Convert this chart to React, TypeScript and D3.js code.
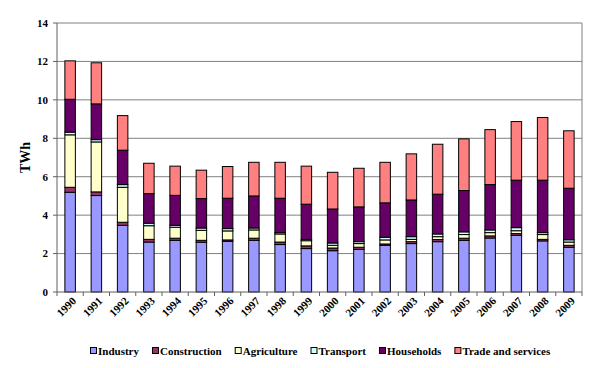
import { useEffect, useRef } from "react";
import * as d3 from "d3";

const years = [
  "1990", "1991", "1992", "1993", "1994", "1995", "1996", "1997", "1998", "1999",
  "2000", "2001", "2002", "2003", "2004", "2005", "2006", "2007", "2008", "2009",
];

const seriesNames = ["Industry", "Construction", "Agriculture", "Transport", "Households", "Trade and services"];
const seriesColors = ["#9999ff", "#993366", "#ffffcc", "#ccffff", "#660066", "#ff8080"];

const industry = [5.19, 5.02, 3.47, 2.6, 2.69, 2.59, 2.64, 2.69, 2.47, 2.26, 2.15, 2.22, 2.43, 2.52, 2.62, 2.69, 2.81, 2.95, 2.66, 2.33];
const construction = [0.26, 0.19, 0.16, 0.14, 0.11, 0.1, 0.07, 0.11, 0.13, 0.14, 0.14, 0.11, 0.07, 0.1, 0.11, 0.11, 0.11, 0.09, 0.08, 0.1];
const agriculture = [2.73, 2.6, 1.82, 0.71, 0.57, 0.52, 0.47, 0.43, 0.42, 0.27, 0.14, 0.19, 0.21, 0.12, 0.15, 0.19, 0.17, 0.15, 0.25, 0.17];
const transport = [0.14, 0.12, 0.14, 0.13, 0.1, 0.12, 0.12, 0.1, 0.07, 0.07, 0.12, 0.1, 0.14, 0.14, 0.14, 0.14, 0.14, 0.16, 0.1, 0.12];
const households = [1.71, 1.86, 1.79, 1.54, 1.56, 1.53, 1.58, 1.67, 1.79, 1.83, 1.77, 1.81, 1.79, 1.91, 2.07, 2.15, 2.36, 2.47, 2.73, 2.68];
const trade = [2.0, 2.14, 1.8, 1.58, 1.52, 1.48, 1.65, 1.75, 1.87, 1.98, 1.91, 2.01, 2.11, 2.4, 2.6, 2.69, 2.86, 3.05, 3.26, 2.99];

const yTicks = [0, 2, 4, 6, 8, 10, 12, 14];

export default function App() {
  const svgRef = useRef<SVGSVGElement>(null);

  const width = 594;
  const height = 368;
  const margin = { top: 23, right: 12, bottom: 76, left: 57 };

  useEffect(() => {
    const svg = d3.select(svgRef.current);
    svg.selectAll("*").remove();

    const font = "Liberation Serif";
    const values = [industry, construction, agriculture, transport, households, trade];
    const rows = years.map((y, i) => {
      const r: any = { year: y };
      seriesNames.forEach((s, k) => (r[s] = values[k][i]));
      return r;
    });
    const stacked = d3.stack().keys(seriesNames)(rows);

    const x = d3
      .scaleBand()
      .domain(years)
      .range([margin.left, width - margin.right])
      .paddingInner(0.6)
      .paddingOuter(0.3);
    const y = d3
      .scaleLinear()
      .domain([0, 14])
      .range([height - margin.bottom, margin.top]);

    const step = x.step();

    // gridlines
    svg.append("g")
      .selectAll("line")
      .data(yTicks.filter((d) => d > 0))
      .join("line")
      .attr("x1", margin.left)
      .attr("x2", width - margin.right)
      .attr("y1", (d) => y(d))
      .attr("y2", (d) => y(d))
      .attr("stroke", "#808080")
      .attr("stroke-width", 1);

    // right border
    svg.append("line")
      .attr("x1", width - margin.right)
      .attr("x2", width - margin.right)
      .attr("y1", margin.top)
      .attr("y2", height - margin.bottom)
      .attr("stroke", "#808080");

    // bars
    svg.append("g")
      .selectAll("g")
      .data(stacked)
      .join("g")
      .attr("fill", (d, i) => seriesColors[i])
      .selectAll("rect")
      .data((d) => d)
      .join("rect")
      .attr("x", (d: any) => x(d.data.year)!)
      .attr("width", x.bandwidth())
      .attr("y", (d) => y(d[1]))
      .attr("height", (d) => y(d[0]) - y(d[1]))
      .attr("stroke", "#000")
      .attr("stroke-width", 1);

    const label = (sel: any, size: number) =>
      sel.style("font-family", font).style("font-weight", "700").style("font-size", size + "px");

    // y axis
    const ya = svg.append("g");
    ya.append("line")
      .attr("x1", margin.left)
      .attr("x2", margin.left)
      .attr("y1", margin.top)
      .attr("y2", height - margin.bottom)
      .attr("stroke", "#606060");
    ya.selectAll("line.t")
      .data(yTicks)
      .join("line")
      .attr("class", "t")
      .attr("x1", margin.left - 4)
      .attr("x2", margin.left)
      .attr("y1", (d) => y(d))
      .attr("y2", (d) => y(d))
      .attr("stroke", "#606060");
    ya.selectAll("text")
      .data(yTicks)
      .join("text")
      .attr("x", margin.left - 9)
      .attr("y", (d) => y(d))
      .attr("dy", "0.35em")
      .attr("text-anchor", "end")
      .call(label, 11)
      .text((d) => d);

    svg.append("text")
      .attr("transform", `translate(25,${(margin.top + height - margin.bottom) / 2}) rotate(-90)`)
      .attr("text-anchor", "middle")
      .attr("dy", "0.35em")
      .call(label, 14)
      .text("TWh");

    // x axis
    const xa = svg.append("g");
    const base = height - margin.bottom;
    xa.append("line")
      .attr("x1", margin.left)
      .attr("x2", width - margin.right)
      .attr("y1", base)
      .attr("y2", base)
      .attr("stroke", "#606060");
    xa.selectAll("line.t")
      .data(d3.range(years.length + 1))
      .join("line")
      .attr("class", "t")
      .attr("x1", (i) => margin.left + i * step)
      .attr("x2", (i) => margin.left + i * step)
      .attr("y1", base)
      .attr("y2", base + 4)
      .attr("stroke", "#606060");
    xa.selectAll("text")
      .data(years)
      .join("text")
      .attr("transform", (d) => `translate(${x(d)! + x.bandwidth() / 2 + 4},${base + 7}) rotate(-45)`)
      .attr("text-anchor", "end")
      .attr("dy", "0.35em")
      .call(label, 11)
      .text((d) => d);

    // legend
    const lg = svg.append("g");
    let lx = 90;
    const ly = 351;
    seriesNames.forEach((name, i) => {
      lg.append("rect")
        .attr("x", lx + 0.5)
        .attr("y", ly - 3.5)
        .attr("width", 6)
        .attr("height", 6)
        .attr("fill", seriesColors[i])
        .attr("stroke", "#000");
      const t = lg.append("text")
        .attr("x", lx + 8)
        .attr("y", ly)
        .attr("dy", "0.35em")
        .call(label, 11)
        .text(name);
      const w = (t.node() as SVGTextElement).getComputedTextLength();
      lx += 8 + w + 13;
    });
  }, []);

  return (
    <svg
      ref={svgRef}
      width={width}
      height={height}
      style={{ position: "absolute", left: 0, top: 0, background: "#fff" }}
    />
  );
}
